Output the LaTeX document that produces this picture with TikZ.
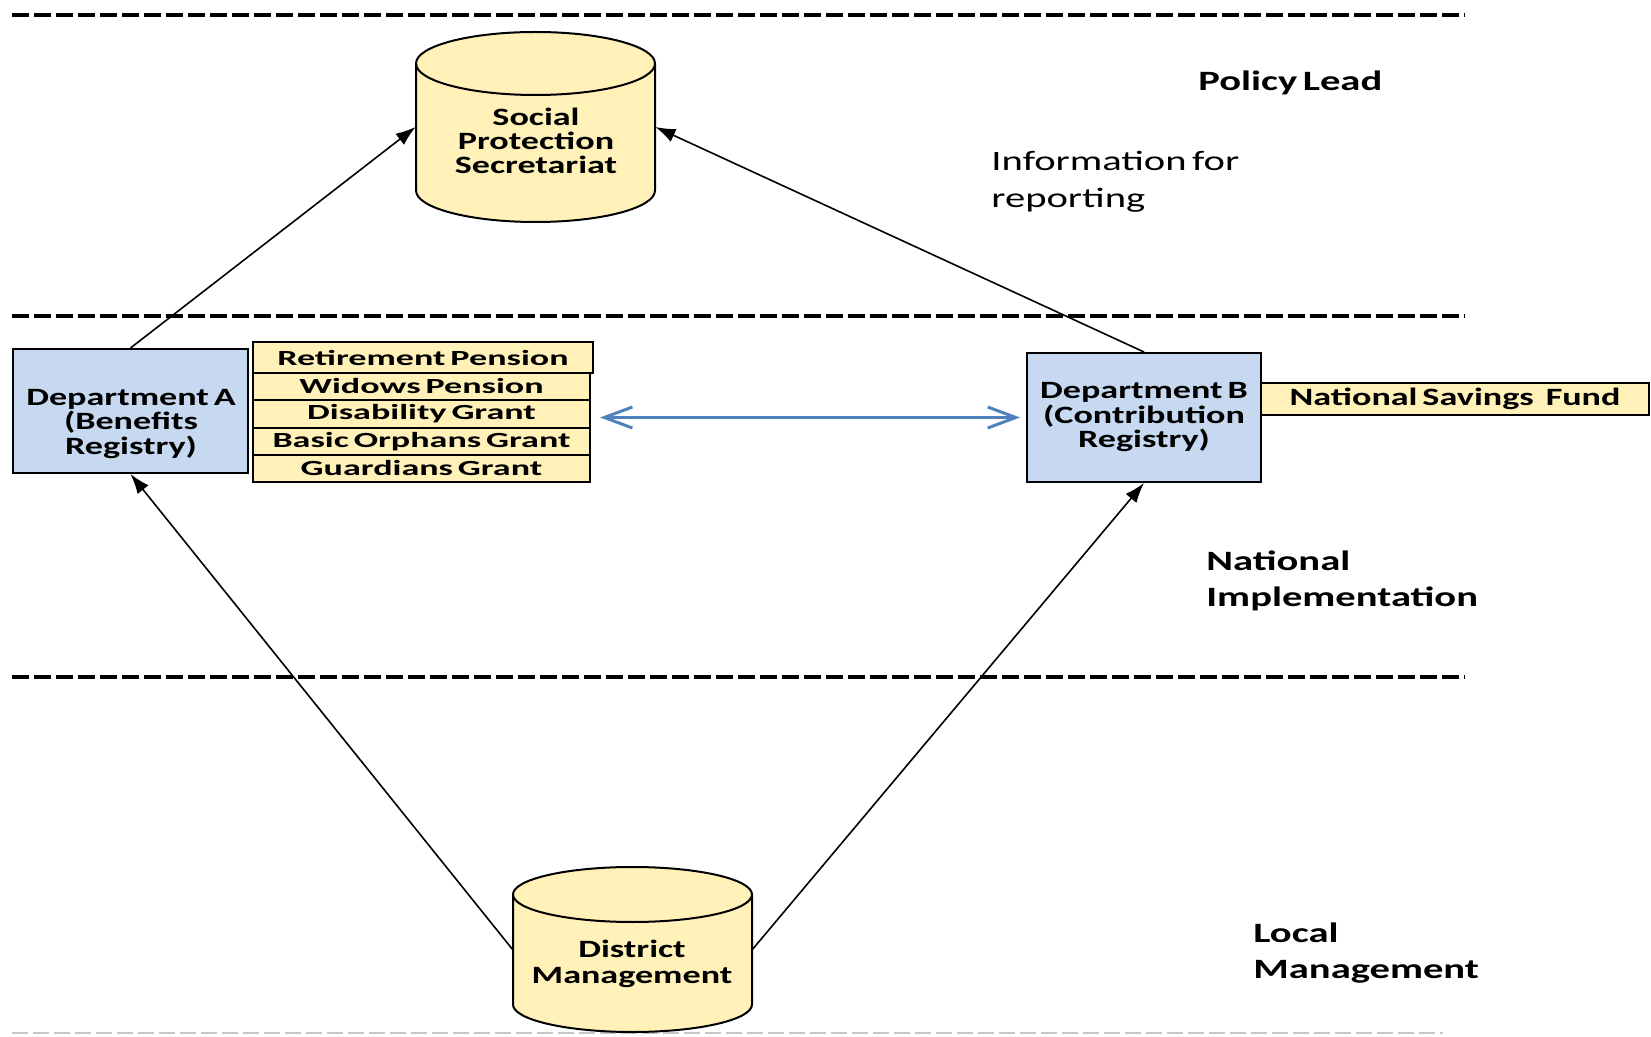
\documentclass[tikz,border=0pt]{standalone}
\usepackage{fontspec}
\setmainfont{Carlito}[FakeStretch=1.45,WordSpace=0.6]
\newfontfamily\stackfont{Carlito}[FakeStretch=1.67,WordSpace=0.6]
\usetikzlibrary{arrows.meta}
\definecolor{boxblue}{HTML}{C6D9F1}
\definecolor{boxyellow}{HTML}{FFF1B8}
\definecolor{arrowblue}{HTML}{4F81BD}
\begin{document}
\begin{tikzpicture}[x=0.5pt,y=-0.5pt,
  dashline/.style={line width=1.75pt, dash pattern=on 8.3pt off 2.7pt},
  bluebox/.style={draw=black, line width=1pt, fill=boxblue, inner sep=0pt},
  ylwbox/.style={draw=black, line width=1.1pt, fill=boxyellow, inner sep=0pt},
  cyl/.style={draw=black, line width=1pt, fill=boxyellow},
  boxtext/.style={font=\fontsize{12.45}{12.25}\selectfont\bfseries, align=center, inner sep=0pt},
  stacktext/.style={font=\stackfont\fontsize{10.8}{12}\selectfont\bfseries},
  lbl/.style={font=\fontsize{14}{18}\selectfont\bfseries, align=left, inner sep=0pt, anchor=west},
  conn/.style={-{Latex[length=10pt,width=7pt]}, line width=0.8pt},
  bluearr/.style={{Straight Barb[length=14pt,width=10.5pt]}-{Straight Barb[length=14pt,width=10.5pt]}, draw=arrowblue, line width=1.5pt},
  ghost/.style={inner sep=0pt, minimum width=119.5pt}
]
\useasboundingbox (0,0) rectangle (1651,1037);
\fill[white] (0,0) rectangle (1651,1037);

% layer separators
\draw[dashline] (12,15) -- (1465,15);
\draw[dashline] (12,316) -- (1465,316);
\draw[dashline] (12,677) -- (1465,677);
\draw[gray!45, line width=0.9pt, dash pattern=on 8pt off 2.5pt] (12,1033) -- (1443,1033);

% Social Protection Secretariat cylinder
\node[ghost, minimum height=95pt] (sps) at (535.5,127) {};
\filldraw[cyl] (416,63.5) -- (416,190.5)
  arc[start angle=180,end angle=360,x radius=59.75pt,y radius=15.75pt]
  -- (655,63.5)
  arc[start angle=0,end angle=180,x radius=59.75pt,y radius=15.75pt] -- cycle;
\draw[line width=1pt] (416,63.5) arc[start angle=180,end angle=360,x radius=59.75pt,y radius=15.75pt];
\node[boxtext, font=\fontsize{12.45}{12}\selectfont\bfseries] (spsT) at (536,141) {Social\\Protection\\Secretariat};

% District Management cylinder
\node[ghost, minimum height=82.5pt] (dist) at (632.5,949.5) {};
\filldraw[cyl] (513,894.5) -- (513,1004.5)
  arc[start angle=180,end angle=360,x radius=59.75pt,y radius=13.75pt]
  -- (752,894.5)
  arc[start angle=0,end angle=180,x radius=59.75pt,y radius=13.75pt] -- cycle;
\draw[line width=1pt] (513,894.5) arc[start angle=180,end angle=360,x radius=59.75pt,y radius=13.75pt];
\node[boxtext, font=\fontsize{12.45}{13}\selectfont\bfseries] (distT) at (632,963.5) {District\\Management};

% Department A
\node[bluebox, minimum width=117.5pt, minimum height=62pt] (depA) at (130.5,411) {};
\node[boxtext] (depAT) at (131,424) {Department A\\(Benefits\\Registry)};

% benefit stack
\node[ylwbox, stacktext, minimum width=170pt, minimum height=15.5pt] (ret) at (423,357.5) {Retirement Pension};
\node[ylwbox, stacktext, minimum width=168.5pt, minimum height=13.5pt] (wid) at (421.5,386.5) {Widows Pension};
\node[ylwbox, stacktext, minimum width=168.5pt, minimum height=14pt] (dis) at (421.5,414) {Disability Grant};
\node[ylwbox, stacktext, minimum width=168.5pt, minimum height=13.5pt] (bas) at (421.5,441.5) {Basic Orphans Grant};
\node[ylwbox, stacktext, minimum width=168.5pt, minimum height=13.5pt] (gua) at (421.5,468.5) {Guardians Grant};

% Department B
\node[bluebox, boxtext, minimum width=117pt, minimum height=64.5pt] (depB) at (1144,417.5) {Department B\\(Contribution\\Registry)};
\node[ylwbox, boxtext, minimum width=194pt, minimum height=16pt] (nsf) at (1455,399) {National Savings\hspace{6pt}Fund};

% connectors
\draw[conn] (depA.north) -- (sps.west);
\draw[conn] (depB.north) -- (sps.east);
\draw[conn] (dist.west) -- (depA.south);
\draw[conn] (dist.east) -- (depB.south);
\draw[bluearr, shorten <=4.5pt, shorten >=3pt] (dis.east |- depB.west) -- (depB.west);

% layer labels
\node[lbl] (policy) at (1198,83) {Policy Lead};
\node[lbl, font=\fontsize{14}{18.5}\selectfont] (info) at (991,181.5) {Information for\\reporting};
\node[lbl] (national) at (1206,581) {National\\Implementation};
\node[lbl] (local) at (1253,953.5) {Local\\Management};
\end{tikzpicture}
\end{document}
